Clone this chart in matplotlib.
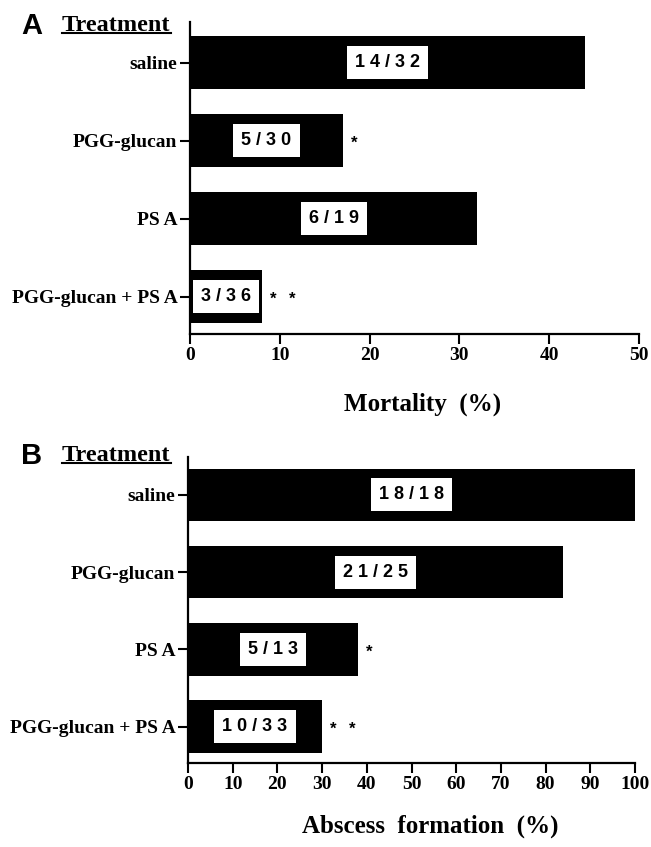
import matplotlib
matplotlib.use('Agg')
import matplotlib.pyplot as plt
from matplotlib.lines import Line2D

treatments = ["saline", "PGG-glucan", "PS A", "PGG-glucan + PS A"]

mortality = [44, 17, 32, 8]
mortality_labels = ["1 4 / 3 2", "5 / 3 0", "6 / 1 9", "3 / 3 6"]
mortality_stars = [0, 1, 0, 2]

abscess = [100, 84, 38, 30]
abscess_labels = ["1 8 / 1 8", "2 1 / 2 5", "5 / 1 3", "1 0 / 3 3"]
abscess_stars = [0, 0, 1, 2]

W, H = 651, 847
fig = plt.figure(figsize=(W / 100, H / 100), dpi=100)

serif = "Liberation Serif"
sans = "Liberation Sans"


def px_axes(left, right, top, bottom):
    return fig.add_axes([left / W, 1 - bottom / H, (right - left) / W, (bottom - top) / H])


def draw_panel(ax, values, labels, stars, xmax, xticks, xlabel, ylim):
    y = list(range(len(values)))
    ax.barh(y, values, height=0.68, color="black", edgecolor="none")
    for yi, v, lab, n in zip(y, values, labels, stars):
        ax.text(v / 2, yi, lab, ha="center", va="center", family=sans,
                fontweight="bold", fontsize=13,
                bbox=dict(boxstyle="square,pad=0.45", fc="white", ec="none"))
        for k in range(n):
            ax.annotate("*", (v, yi), xytext=(8 + 14 * k, -2), textcoords="offset points",
                        ha="center", va="center", fontsize=12, fontweight="bold",
                        family=sans)
    ax.set_xlim(0, xmax)
    ax.set_ylim(*ylim)
    ax.set_xticks(xticks)
    ax.set_xticklabels([str(t) for t in xticks], family=serif,
                       fontweight="bold", fontsize=14)
    ax.set_yticks(y)
    ax.set_yticklabels(treatments, family=serif, fontweight="bold", fontsize=14)
    ax.tick_params(axis="both", direction="out", length=7, width=1.5, pad=2)
    for side in ("top", "right"):
        ax.spines[side].set_visible(False)
    for side in ("left", "bottom"):
        ax.spines[side].set_linewidth(1.6)
    ax.set_xlabel(xlabel, family=serif, fontweight="bold", fontsize=18)
    ax.xaxis.label.set_va("top")


axA = px_axes(190, 639, 22, 334)
draw_panel(axA, mortality, mortality_labels, mortality_stars, 50,
           [0, 10, 20, 30, 40, 50], "Mortality  (%)", (3.48, -0.52))
axA.xaxis.set_label_coords(0.518, -59 / 312)

axB = px_axes(188, 635, 457, 763)
draw_panel(axB, abscess, abscess_labels, abscess_stars, 100,
           list(range(0, 101, 10)), "Abscess  formation  (%)", (3.47, -0.49))
axB.xaxis.set_label_coords(0.541, -52 / 306)

# panel letters and underlined "Treatment" headers
for letter, ytop in (("A", 34), ("B", 464)):
    fig.text(21 / W, 1 - ytop / H, letter, family=sans, fontweight="bold",
             fontsize=21, ha="left", va="baseline")
    t = fig.text(62 / W, 1 - (ytop - 3) / H, "Treatment", family=serif,
                 fontweight="bold", fontsize=17.5, ha="left", va="baseline")
    fig.canvas.draw()
    bb = t.get_window_extent()
    yline = 1 - (ytop - 1) / H
    fig.add_artist(Line2D([bb.x0 / W, bb.x1 / W], [yline, yline],
                          transform=fig.transFigure, color="black", lw=1.5))

fig.savefig("out.png", dpi=100)
